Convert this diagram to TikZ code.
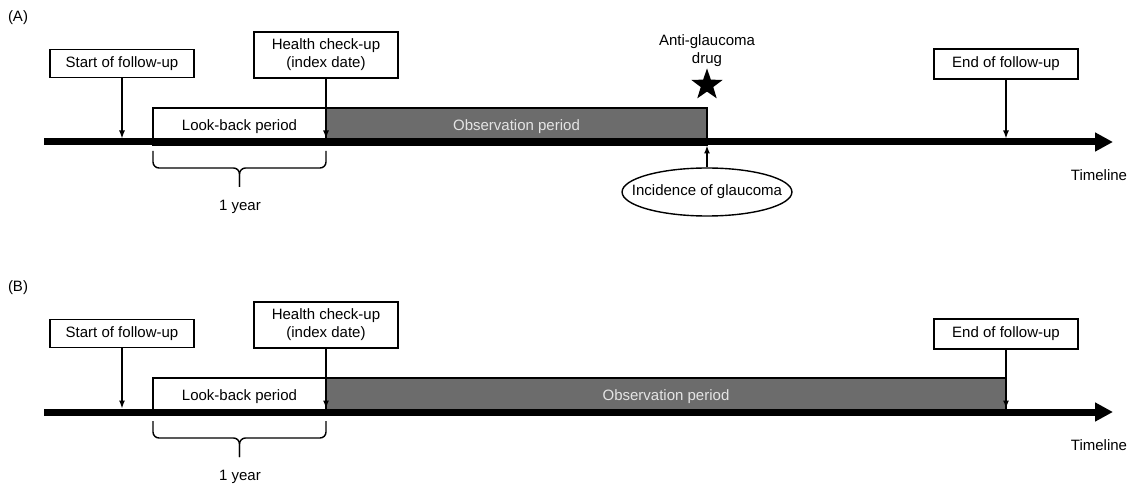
\documentclass[tikz,border=0pt]{standalone}
\usepackage{fontspec}
\setmainfont{Liberation Sans}
\usetikzlibrary{arrows.meta,shapes.geometric}
\definecolor{obsgray}{RGB}{108,108,108}
\definecolor{obstext}{RGB}{228,228,228}

\tikzset{
  box/.style={draw,line width=1.4pt,fill=white,minimum width=144pt,minimum height=28pt,inner sep=2pt,align=center},
  period/.style={draw,line width=1.4pt,minimum height=37pt,inner sep=0pt},
  pointer/.style={line width=1.4pt,-{Latex[length=8pt,width=6pt]}},
  timeline/.style={line width=7pt,-{Triangle[length=18pt,width=18pt]}},
  yearbrace/.style={line width=1.4pt,rounded corners=6pt},
}

\begin{document}
\begin{tikzpicture}[x=1pt,y=-1pt,font=\fontsize{15}{18}\selectfont]
\useasboundingbox (0,0) rectangle (1129,486);

% (A)
\node (labA) at (18,18) {(A)};
\node[period,fill=white,minimum width=173pt] (lookA) at (239.5,126.5) {Look-back period};
\node[period,fill=obsgray,text=obstext,minimum width=381pt] (obsA) at (516.5,126.5) {Observation period};
\coordinate (tlA0) at (44,142);
\coordinate (tlA1) at (1113,142);
\draw[timeline] (tlA0) -- (tlA1);
\node (timeA) at (1099,175) {Timeline};

\node[box] (startA) at (122,63.5) {Start of follow-up};
\node[box,minimum height=46pt] (checkA) at (326,55) {Health check-up\\(index date)};
\node[box,minimum height=30pt] (endA) at (1006,64) {End of follow-up};
\coordinate (sA) at (122,138.5);
\coordinate (cA) at (326,138.5);
\coordinate (eA) at (1006,138.5);
\draw[pointer] (startA) -- (sA);
\draw[pointer] (checkA) -- (cA);
\draw[pointer] (endA) -- (eA);

\node[align=center] (drugtxtA) at (707,51) {Anti-glaucoma\\drug};
\node[star,star points=5,star point ratio=2.5,fill=black,minimum size=33pt,inner sep=0pt] (drugA) at (707,85) {};
\node[draw,ellipse,line width=1.4pt,inner xsep=-15pt,inner ysep=0pt,minimum height=48pt] (incA) at (707,192) {Incidence of glaucoma};
\coordinate (iA) at (707,145.5);
\draw[pointer] (incA) -- (iA);

\draw[yearbrace] (153,151) |- (239.5,168) -- (239.5,187);
\draw[yearbrace] (326,151) |- (239.5,168) -- (239.5,187);
\node (yearA) at (240,207) {1 year};

% (B)
\begin{scope}[yshift=-270pt]
\node (labB) at (18,18) {(B)};
\node[period,fill=white,minimum width=173pt] (lookB) at (239.5,126.5) {Look-back period};
\node[period,fill=obsgray,text=obstext,minimum width=680pt] (obsB) at (666,126.5) {Observation period};
\coordinate (tlB0) at (44,142);
\coordinate (tlB1) at (1113,142);
\draw[timeline] (tlB0) -- (tlB1);
\node (timeB) at (1099,175) {Timeline};

\node[box] (startB) at (122,63.5) {Start of follow-up};
\node[box,minimum height=46pt] (checkB) at (326,55) {Health check-up\\(index date)};
\node[box,minimum height=30pt] (endB) at (1006,64) {End of follow-up};
\coordinate (sB) at (122,138.5);
\coordinate (cB) at (326,138.5);
\coordinate (eB) at (1006,138.5);
\draw[pointer] (startB) -- (sB);
\draw[pointer] (checkB) -- (cB);
\draw[pointer] (endB) -- (eB);

\draw[yearbrace] (153,151) |- (239.5,168) -- (239.5,187);
\draw[yearbrace] (326,151) |- (239.5,168) -- (239.5,187);
\node (yearB) at (240,207) {1 year};
\end{scope}
\end{tikzpicture}
\end{document}
